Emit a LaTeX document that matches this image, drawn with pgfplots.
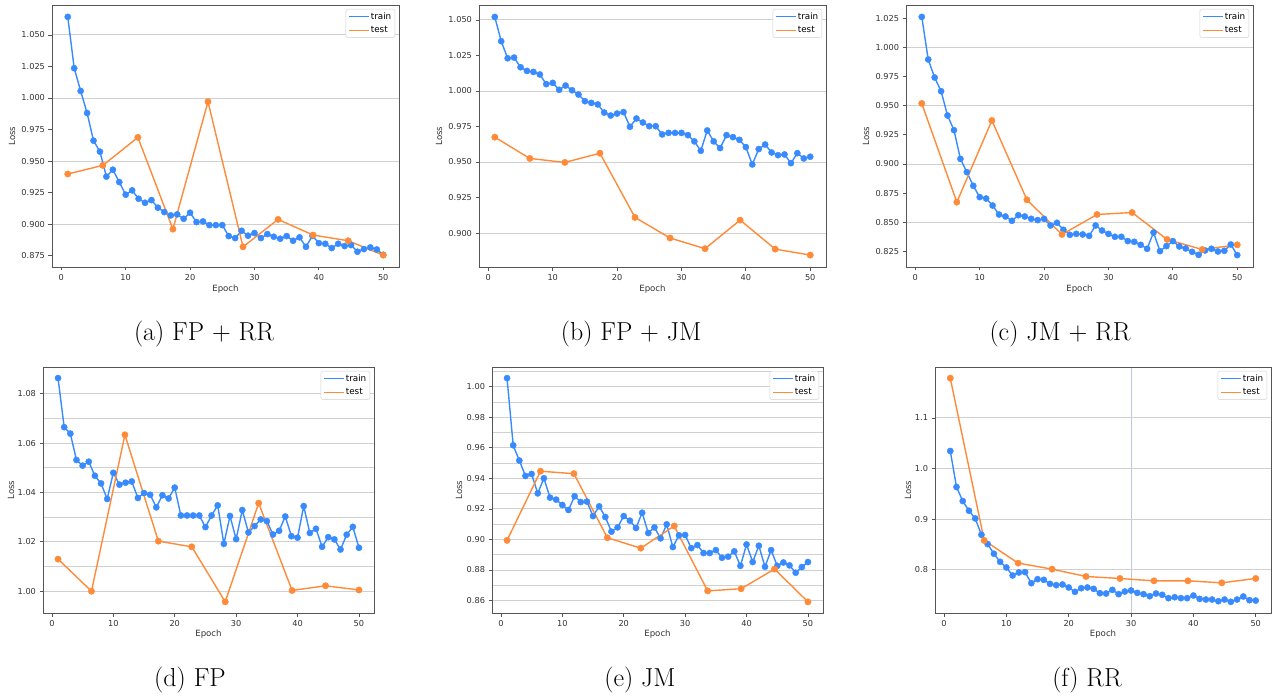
\documentclass[border=0pt]{standalone}
\usepackage{fontspec}
\usepackage{pgfplots}
\usepackage{pgfplotstable}
\pgfplotsset{compat=1.18}
\newfontfamily\dejavu{DejaVu Sans}
\definecolor{trainc}{RGB}{56,138,255}
\definecolor{testc}{RGB}{255,138,56}
\definecolor{gridc}{RGB}{208,208,208}
\definecolor{vgridc}{RGB}{190,202,220}
\definecolor{axc}{RGB}{85,85,85}
\definecolor{txc}{RGB}{50,50,50}

\pgfplotstableread{
x y
1 1.0643
2 1.0236
3 1.0056
4 0.9881
5 0.9662
6 0.9575
7 0.9377
8 0.9432
9 0.9334
10 0.9234
11 0.9268
12 0.9202
13 0.9170
14 0.9191
15 0.9131
16 0.9096
17 0.9070
18 0.9078
19 0.9043
20 0.9091
21 0.9017
22 0.9022
23 0.8993
24 0.8993
25 0.8993
26 0.8906
27 0.8890
28 0.8948
29 0.8909
30 0.8930
31 0.8890
32 0.8922
33 0.8901
34 0.8885
35 0.8906
36 0.8869
37 0.8896
38 0.8821
39 0.8908
40 0.8850
41 0.8845
42 0.8811
43 0.8845
44 0.8827
45 0.8835
46 0.8782
47 0.8803
48 0.8816
49 0.8800
50 0.8758
}\trainA
\pgfplotstableread{
x y
1 0.9398
6.444 0.9466
11.889 0.9688
17.333 0.8961
22.778 0.9971
28.222 0.8821
33.667 0.9038
39.111 0.8914
44.556 0.8869
50 0.8755
}\testA

\pgfplotstableread{
x y
1 1.0521
2 1.0350
3 1.0230
4 1.0235
5 1.0167
6 1.0141
7 1.0134
8 1.0116
9 1.0048
10 1.0057
11 1.0008
12 1.0038
13 1.0005
14 0.9975
15 0.9928
16 0.9916
17 0.9905
18 0.9848
19 0.9827
20 0.9841
21 0.9851
22 0.9748
23 0.9806
24 0.9778
25 0.9752
26 0.9752
27 0.9694
28 0.9705
29 0.9705
30 0.9705
31 0.9689
32 0.9645
33 0.9579
34 0.9722
35 0.9645
36 0.9598
37 0.9689
38 0.9675
39 0.9656
40 0.9605
41 0.9483
42 0.9591
43 0.9623
44 0.9567
45 0.9548
46 0.9553
47 0.9492
48 0.9562
49 0.9525
50 0.9537
}\trainB
\pgfplotstableread{
x y
1 0.9675
6.444 0.9525
11.889 0.9497
17.333 0.9562
22.778 0.9110
28.222 0.8965
33.667 0.8890
39.111 0.9091
44.556 0.8887
50 0.8845
}\testB

\pgfplotstableread{
x y
1 1.0261
2 0.9896
3 0.9741
4 0.9624
5 0.9416
6 0.9290
7 0.9044
8 0.8930
9 0.8813
10 0.8716
11 0.8704
12 0.8644
13 0.8567
14 0.8550
15 0.8513
16 0.8561
17 0.8550
18 0.8530
19 0.8519
20 0.8530
21 0.8473
22 0.8496
23 0.8436
24 0.8393
25 0.8401
26 0.8396
27 0.8384
28 0.8473
29 0.8430
30 0.8401
31 0.8376
32 0.8376
33 0.8339
34 0.8333
35 0.8307
36 0.8273
37 0.8413
38 0.8253
39 0.8296
40 0.8339
41 0.8293
42 0.8276
43 0.8247
44 0.8221
45 0.8259
46 0.8273
47 0.8250
48 0.8256
49 0.8310
50 0.8219
}\trainC
\pgfplotstableread{
x y
1 0.9519
6.444 0.8673
11.889 0.9373
17.333 0.8693
22.778 0.8396
28.222 0.8567
33.667 0.8584
39.111 0.8353
44.556 0.8267
50 0.8307
}\testC

\pgfplotstableread{
x y
1 1.0864
2 1.0665
3 1.0639
4 1.0532
5 1.0509
6 1.0525
7 1.0468
8 1.0437
9 1.0374
10 1.0480
11 1.0432
12 1.0440
13 1.0445
14 1.0378
15 1.0398
16 1.0391
17 1.0340
18 1.0389
19 1.0376
20 1.0420
21 1.0307
22 1.0307
23 1.0307
24 1.0307
25 1.0260
26 1.0307
27 1.0348
28 1.0192
29 1.0305
30 1.0211
31 1.0329
32 1.0238
33 1.0264
34 1.0291
35 1.0284
36 1.0230
37 1.0245
38 1.0303
39 1.0223
40 1.0217
41 1.0345
42 1.0236
43 1.0253
44 1.0180
45 1.0219
46 1.0210
47 1.0169
48 1.0229
49 1.0261
50 1.0176
}\trainD
\pgfplotstableread{
x y
1 1.0130
6.444 1.0000
11.889 1.0634
17.333 1.0203
22.778 1.0180
28.222 0.9957
33.667 1.0357
39.111 1.0003
44.556 1.0022
50 1.0005
}\testD

\pgfplotstableread{
x y
1 1.0057
2 0.9617
3 0.9517
4 0.9416
5 0.9429
6 0.9302
7 0.9401
8 0.9274
9 0.9261
10 0.9226
11 0.9193
12 0.9283
13 0.9245
14 0.9248
15 0.9153
16 0.9217
17 0.9147
18 0.9051
19 0.9079
20 0.9153
21 0.9123
22 0.9075
23 0.9175
24 0.9042
25 0.9079
26 0.9007
27 0.9099
28 0.8950
29 0.9027
30 0.9029
31 0.8943
32 0.8963
33 0.8911
34 0.8911
35 0.8930
36 0.8880
37 0.8887
38 0.8922
39 0.8827
40 0.8967
41 0.8852
42 0.8959
43 0.8821
44 0.8930
45 0.8827
46 0.8849
47 0.8830
48 0.8782
49 0.8819
50 0.8852
}\trainE
\pgfplotstableread{
x y
1 0.8994
6.444 0.9447
11.889 0.9431
17.333 0.9011
22.778 0.8943
28.222 0.9088
33.667 0.8663
39.111 0.8677
44.556 0.8806
50 0.8591
}\testE

\pgfplotstableread{
x y
1 1.0347
2 0.9635
3 0.9358
4 0.9167
5 0.9015
6 0.8692
7 0.8508
8 0.8317
9 0.8158
10 0.8046
11 0.7888
12 0.7947
13 0.7954
14 0.7736
15 0.7815
16 0.7802
17 0.7723
18 0.7697
19 0.7710
20 0.7651
21 0.7565
22 0.7637
23 0.7651
24 0.7624
25 0.7538
26 0.7532
27 0.7604
28 0.7519
29 0.7571
30 0.7591
31 0.7545
32 0.7519
33 0.7479
34 0.7532
35 0.7506
36 0.7440
37 0.7459
38 0.7440
39 0.7440
40 0.7492
41 0.7426
42 0.7413
43 0.7413
44 0.7380
45 0.7413
46 0.7368
47 0.7413
48 0.7473
49 0.7400
50 0.7393
}\trainF
\pgfplotstableread{
x y
1 1.1785
6.444 0.8580
11.889 0.8132
17.333 0.8013
22.778 0.7868
28.222 0.7829
33.667 0.7782
39.111 0.7782
44.556 0.7743
50 0.7829
}\testF

\pgfplotsset{
  legend image code/.code={\draw[#1] (0pt,0pt) -- (20pt,0pt);},
}
\pgfplotsset{
  lossax/.style={
    scale only axis,
    anchor=south west,
    xmin=-1.45, xmax=52.45,
    xtick={0,10,20,30,40,50},
    tick align=outside, tick pos=left,
    major tick length=3.5pt,
    minor tick length=0pt,
    axis line style={axc, line width=0.9pt},
    major tick style={axc, line width=0.8pt},
    /pgf/number format/assume math mode=true,
    ticklabel style={font=\dejavu\fontsize{8.2}{9}\selectfont, text=txc},
    xticklabel style={/pgf/number format/.cd, fixed, precision=0},
    label style={font=\dejavu\fontsize{8.6}{10}\selectfont, text=txc},
    xlabel={Epoch}, ylabel={Loss},
    xlabel style={at={(axis description cs:0.5,0)}, anchor=center, yshift=-22pt},
    yminorgrids, minor grid style={gridc, line width=0.9pt},
    legend style={at={(1,1)}, anchor=north east, xshift=-4pt, yshift=-4pt,
      draw=gridc, rounded corners=2pt, fill=white,
      font=\dejavu\fontsize{8.8}{10}\selectfont,
      inner xsep=2.5pt, inner ysep=2.5pt, row sep=3.5pt,
      nodes={inner sep=1pt}},
    legend cell align=left,
  },
  row1/.style={width=347pt, height=262pt,
    yticklabel style={/pgf/number format/.cd, fixed, fixed zerofill, precision=3}},
  row2/.style={width=331pt, height=246pt},
  trainline/.style={color=trainc, line width=1.4pt, mark=none},
  testline/.style={color=testc, line width=1.4pt, mark=none},
  trainmarks/.style={only marks, color=trainc, mark=*, mark size=3.1pt},
  testmarks/.style={only marks, color=testc, mark=*, mark size=3.2pt},
}

\newcommand{\plotpair}[2]{%
  \addlegendimage{trainline}\addlegendentry{train}
  \addlegendimage{testline}\addlegendentry{test}
  \addplot[trainline, forget plot] table {#1};
  \addplot[testline, forget plot] table {#2};
  \addplot[trainmarks, forget plot] table {#1};
  \addplot[testmarks, forget plot] table {#2};
}

\begin{document}
\begin{tikzpicture}
\useasboundingbox (0,0) rectangle (1277pt,697pt);

% (a)
\begin{axis}[lossax, row1, at={(52pt,430pt)},
  ymin=0.8661, ymax=1.0737,
  ytick={0.875,0.9,0.925,0.95,0.975,1.0,1.025,1.05},
  minor ytick={0.9,0.95,1.0,1.05},
  ylabel style={at={(axis description cs:-0.1153,0.5)}, anchor=center}]
\plotpair{\trainA}{\testA}
\end{axis}

% (b)
\begin{axis}[lossax, row1, at={(479pt,430pt)},
  ymin=0.8761, ymax=1.0605,
  ytick={0.9,0.925,0.95,0.975,1.0,1.025,1.05},
  minor ytick={0.9,0.95,1.0,1.05},
  ylabel style={at={(axis description cs:-0.1153,0.5)}, anchor=center}]
\plotpair{\trainB}{\testB}
\end{axis}

% (c)
\begin{axis}[lossax, row1, at={(906pt,430pt)},
  ymin=0.8117, ymax=1.0363,
  ytick={0.825,0.85,0.875,0.9,0.925,0.95,0.975,1.0,1.025},
  minor ytick={0.85,0.9,0.95,1.0},
  ylabel style={at={(axis description cs:-0.1153,0.5)}, anchor=center}]
\plotpair{\trainC}{\testC}
\end{axis}

% (d)
\begin{axis}[lossax, row2, at={(43pt,84pt)},
  ymin=0.99116, ymax=1.0909,
  ytick={1.0,1.02,1.04,1.06,1.08},
  yticklabel style={/pgf/number format/.cd, fixed, fixed zerofill, precision=2},
  minor ytick={1.0,1.01,1.02,1.03,1.04,1.05,1.06,1.07,1.08},
  ylabel style={at={(axis description cs:-0.0967,0.5)}, anchor=center},
  xlabel style={yshift=1pt}]
\plotpair{\trainD}{\testD}
\end{axis}

% (e)
\begin{axis}[lossax, row2, at={(492pt,84pt)},
  ymin=0.8518, ymax=1.0130,
  ytick={0.86,0.88,0.9,0.92,0.94,0.96,0.98,1.0},
  yticklabel style={/pgf/number format/.cd, fixed, fixed zerofill, precision=2},
  minor ytick={0.86,0.87,0.88,0.89,0.9,0.91,0.92,0.93,0.94,0.95,0.96,0.97,0.98,0.99,1.0,1.01},
  ylabel style={at={(axis description cs:-0.0997,0.5)}, anchor=center},
  xlabel style={yshift=1pt}]
\plotpair{\trainE}{\testE}
\end{axis}

% (f)
\begin{axis}[lossax, row2, width=336pt, at={(935pt,84pt)},
  ymin=0.7147, ymax=1.2006,
  ytick={0.8,0.9,1.0,1.1},
  yticklabel style={/pgf/number format/.cd, fixed, fixed zerofill, precision=1},
  minor ytick={0.8,0.9,1.0,1.1},
  minor xtick={30}, xminorgrids,
  minor x grid style={vgridc, line width=0.9pt},
  ylabel style={at={(axis description cs:-0.0804,0.5)}, anchor=center},
  xlabel style={yshift=1pt}]
\plotpair{\trainF}{\testF}
\end{axis}

% captions
\begin{scope}[every node/.style={anchor=base, font=\fontsize{26}{30}\selectfont, inner sep=0pt}]
\node at (204pt,356pt) {(a) FP + RR};
\node at (631pt,356pt) {(b) FP + JM};
\node at (1060pt,356pt) {(c) JM + RR};
\node at (190pt,11pt) {(d) FP};
\node at (640pt,11pt) {(e) JM};
\node at (1087pt,11pt) {(f) RR};
\end{scope}
\end{tikzpicture}
\end{document}
